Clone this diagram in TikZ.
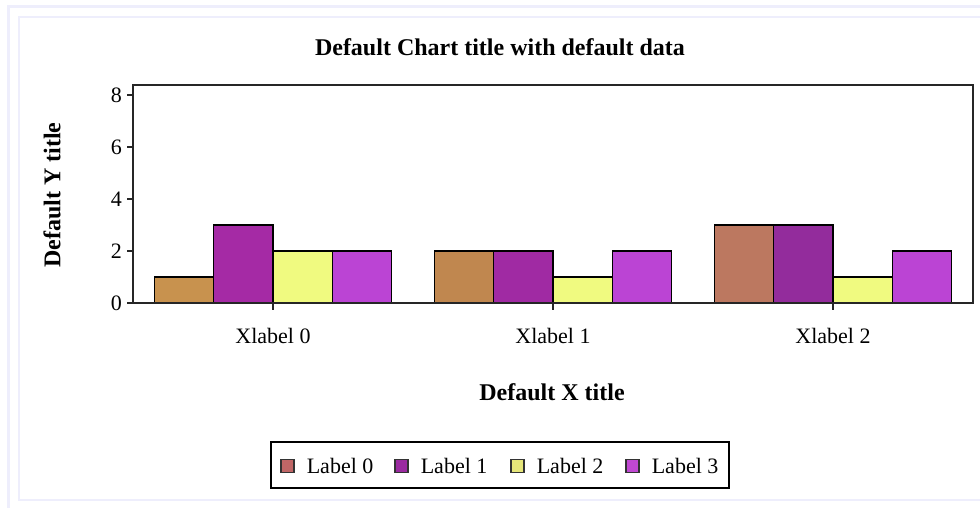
\documentclass[tikz,border=0pt]{standalone}
\usepackage{fontspec}
\setmainfont{Liberation Serif}
\usepackage{tikz}
\usetikzlibrary{positioning}
\definecolor{frameLav}{HTML}{EEEEFC}
\definecolor{sZeroA}{HTML}{C8924E}
\definecolor{sZeroB}{HTML}{C0874F}
\definecolor{sZeroC}{HTML}{BC7860}
\definecolor{sOneA}{HTML}{A52AA5}
\definecolor{sOneB}{HTML}{A02AA3}
\definecolor{sOneC}{HTML}{932C9C}
\definecolor{sTwo}{HTML}{F0FA80}
\definecolor{sThree}{HTML}{BB44D4}
\definecolor{keyZero}{HTML}{C06666}
\definecolor{keyOne}{HTML}{9A2AA0}
\definecolor{keyTwo}{HTML}{E6E67A}
\definecolor{keyThree}{HTML}{C048D2}
\tikzset{
txt/.style={
	inner sep=0pt,
	font=\fontsize{22}{26}\selectfont
},
boldtxt/.style={
	inner sep=0pt,
	font=\fontsize{24}{28}\selectfont\bfseries
},
barbox/.style={
	draw=black,
	line width=1.4pt,
	line join=miter
},
keybox/.style={
	draw=black!80,
	line width=1.2pt,
	minimum size=13pt,
	inner sep=0pt
},
axisline/.style={
	draw=black!85,
	line width=1.8pt
},
tick/.style={
	draw=black!85,
	line width=1.2pt
}
}
\begin{document}
\begin{tikzpicture}[x=1pt, y=-1pt]
\useasboundingbox (0,0) rectangle (980,508);
% ===== Page frames (light lavender) =====
\draw [frameLav, line width=3pt] (8,520) -- (8,7) -- (990,7);
\draw [frameLav, line width=2pt] (990,17) -- (19,17) -- (19,500) -- (990,500);

% ===== Titles =====
\node (title)  [boldtxt]              at (500,47)  {Default Chart title with default data};
\node (ytitle) [boldtxt, rotate=90]   at (52,195)  {Default Y title};
\node (xtitle) [boldtxt]              at (552,392) {Default X title};

% ===== Bars (value v -> y = 303 - 26v) =====
% Xlabel 0
\draw [barbox, fill=sZeroA] (154.5,303)  rectangle (213.75,277);
\draw [barbox, fill=sOneA]  (213.75,303) rectangle (273,225);
\draw [barbox, fill=sTwo]   (273,303)    rectangle (332.25,251);
\draw [barbox, fill=sThree] (332.25,303) rectangle (391.5,251);
% Xlabel 1
\draw [barbox, fill=sZeroB] (434.5,303)  rectangle (493.75,251);
\draw [barbox, fill=sOneB]  (493.75,303) rectangle (553,251);
\draw [barbox, fill=sTwo]   (553,303)    rectangle (612.25,277);
\draw [barbox, fill=sThree] (612.25,303) rectangle (671.5,251);
% Xlabel 2
\draw [barbox, fill=sZeroC] (714.5,303)  rectangle (773.75,225);
\draw [barbox, fill=sOneC]  (773.75,303) rectangle (833,225);
\draw [barbox, fill=sTwo]   (833,303)    rectangle (892.25,277);
\draw [barbox, fill=sThree] (892.25,303) rectangle (951.5,251);

% ===== Plot frame and ticks =====
\draw [axisline] (133,85) rectangle (973,303);
\draw [tick] (127,303) -- (133,303);
\draw [tick] (127,251) -- (133,251);
\draw [tick] (127,199) -- (133,199);
\draw [tick] (127,147) -- (133,147);
\draw [tick] (127,95)  -- (133,95);
\draw [tick] (273,303) -- (273,310);
\draw [tick] (553,303) -- (553,310);
\draw [tick] (833,303) -- (833,310);

% y tick labels
\node (yzero)  [txt, anchor=east] at (122,303) {0};
\node (ytwo)   [txt, anchor=east] at (122,251) {2};
\node (yfour)  [txt, anchor=east] at (122,199) {4};
\node (ysix)   [txt, anchor=east] at (122,147) {6};
\node (yeight) [txt, anchor=east] at (122,95)  {8};
% x tick labels
\node (xzero) [txt] at (273,336) {Xlabel 0};
\node (xone)  [txt] at (553,336) {Xlabel 1};
\node (xtwo)  [txt] at (833,336) {Xlabel 2};

% ===== Legend =====
\draw [draw=black, line width=1.4pt] (271,442) rectangle (729,488);
\node (keyA) [keybox, fill=keyZero]  at (287.5,466) {};
\node (labA) [txt, right=12pt of keyA] {Label 0};
\node (keyB) [keybox, fill=keyOne]   at (401.5,466) {};
\node (labB) [txt, right=12pt of keyB] {Label 1};
\node (keyC) [keybox, fill=keyTwo]   at (517.5,466) {};
\node (labC) [txt, right=12pt of keyC] {Label 2};
\node (keyD) [keybox, fill=keyThree] at (632.5,466) {};
\node (labD) [txt, right=12pt of keyD] {Label 3};

\end{tikzpicture}
\end{document}
